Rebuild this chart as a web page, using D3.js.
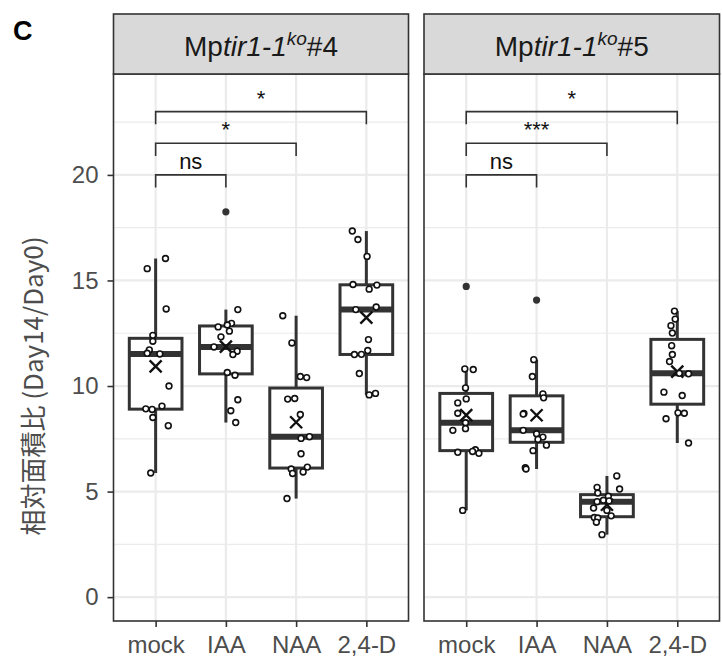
<!DOCTYPE html>
<html>
<head>
<meta charset="utf-8">
<script src="https://cdn.jsdelivr.net/npm/d3@7"></script>
<style>
  body { margin: 0; background: #fff; }
  text { font-family: "Liberation Sans", Arial, Helvetica, sans-serif; }
</style>
</head>
<body>
<svg id="chart" width="722" height="663"></svg>
<script>
// Treatments on the x axis of each facet
const treatments = ["mock", "IAA", "NAA", "2,4-D"];
const lineNames = ["#4", "#5"];
const yTicks = [0, 5, 10, 15, 20];

// Relative area (Day14/Day0), one [value, jitter] pair per plant; jitter is a fraction of the category step
const ko4Mock = [[16.04, 0.14], [15.56, -0.12], [13.65, 0.15], [12.4, -0.04], [12.12, -0.04], [11.71, -0.09], [11.55, -0.12], [11.52, 0.06], [10.0, 0.19], [9.05, 0.09], [8.92, -0.14], [8.89, -0.05], [8.51, -0.04], [8.12, 0.18], [5.88, -0.07]];
const ko4IAA = [[18.25, 0], [13.62, 0.17], [12.97, 0.08], [12.89, 0.02], [12.8, -0.11], [12.6, 0.05], [12.33, -0.07], [11.85, -0.17], [11.65, 0.16], [11.49, 0.10], [10.64, 0.02], [10.51, 0.13], [9.35, 0.17], [8.83, 0.07], [8.27, 0.14]];
const ko4NAA = [[13.33, -0.19], [12.04, -0.06], [10.45, 0.06], [10.40, 0.15], [9.41, -0.02], [9.38, -0.12], [8.65, 0.06], [7.60, 0.19], [7.52, 0.07], [6.79, 0.07], [6.16, 0.16], [6.07, -0.07], [5.93, 0.10], [5.86, -0.05], [4.67, -0.13]];
const ko424D = [[17.34, -0.20], [16.94, -0.12], [16.14, 0.01], [14.81, -0.19], [14.78, 0.15], [14.59, 0.04], [13.74, 0.14], [13.62, -0.15], [12.2, 0.03], [11.68, 0.02], [11.5, -0.07], [11.49, -0.17], [10.59, -0.10], [9.65, 0.13], [9.58, 0.04]];

const ko5Mock = [[14.72, 0], [10.81, -0.02], [10.78, 0.10], [9.91, -0.01], [9.39, 0.0], [9.2, -0.12], [8.71, -0.12], [8.26, -0.01], [7.98, -0.01], [7.9, -0.19], [6.98, 0.13], [6.9, 0.09], [6.86, -0.12], [6.81, 0.18], [4.11, -0.05]];
const ko5IAA = [[14.07, 0], [11.25, -0.04], [10.45, -0.06], [9.63, 0.09], [9.44, 0.10], [8.70, -0.18], [8.67, -0.19], [7.9, -0.19], [7.74, 0.0], [7.58, 0.09], [7.47, 0.02], [7.2, 0.14], [6.94, -0.05], [6.13, -0.16], [6.07, -0.15]];
const ko5NAA = [[5.74, 0.14], [5.2, -0.14], [5.12, 0.18], [4.93, -0.13], [4.78, 0.02], [4.59, -0.05], [4.56, 0.03], [4.52, -0.14], [4.22, -0.19], [4.11, 0.0], [3.85, 0.06], [3.77, -0.18], [3.75, -0.13], [3.55, -0.15], [2.96, -0.07]];
const ko524D = [[13.55, -0.04], [13.17, -0.03], [12.86, -0.09], [12.51, -0.07], [11.91, -0.08], [11.49, -0.07], [11.16, -0.11], [10.6, 0.03], [10.58, 0.16], [9.71, -0.19], [9.55, 0.07], [8.73, 0.01], [8.71, 0.10], [8.45, -0.16], [7.3, 0.16]];

// Pairwise comparisons against mock, bracket heights and significance labels
const comparisons = [["mock", "IAA"], ["mock", "NAA"], ["mock", "2,4-D"]];
const bracketHeights = [20.0, 21.5, 23.0];
const signif4 = ["ns", "*", "*"];
const signif5 = ["ns", "***", "*"];

const panels = [
  { line: lineNames[0], groups: [ko4Mock, ko4IAA, ko4NAA, ko424D], signif: signif4, x0: 113.5, x1: 408.5 },
  { line: lineNames[1], groups: [ko5Mock, ko5IAA, ko5NAA, ko524D], signif: signif5, x0: 424, x1: 719.5 }
];

const svg = d3.select("#chart");
const plotTop = 74, plotBottom = 621, stripTop = 14;
const y = d3.scaleLinear().domain([-1.13, 24.78]).range([plotBottom, plotTop]);
const ink = "#333333";

// Panel label
svg.append("text").attr("x", 13).attr("y", 40)
  .attr("font-size", 27).attr("font-weight", "bold").attr("fill", "#000").text("C");

// y-axis title
svg.append("text")
  .attr("transform", "translate(31,386) rotate(-90)")
  .attr("text-anchor", "middle").attr("dominant-baseline", "central")
  .attr("font-size", 26).attr("fill", "#4d4d4d")
  .style("font-family", "'Noto Sans CJK JP', 'Liberation Sans', sans-serif")
  .text("相対面積比 (Day14/Day0)");

panels.forEach((p, pi) => {
  const g = svg.append("g");
  const x = d3.scalePoint().domain(treatments).range([p.x0, p.x1]).padding(0.6);
  const step = x.step();
  const boxW = step * 0.75;

  // grid: minor then major
  const minor = d3.range(2.5, 25, 5);
  g.selectAll(".minor").data(minor).join("line")
    .attr("x1", p.x0).attr("x2", p.x1).attr("y1", d => y(d)).attr("y2", d => y(d))
    .attr("stroke", "#ebebeb").attr("stroke-width", 1.2);
  g.selectAll(".major").data(yTicks).join("line")
    .attr("x1", p.x0).attr("x2", p.x1).attr("y1", d => y(d)).attr("y2", d => y(d))
    .attr("stroke", "#ebebeb").attr("stroke-width", 2.2);
  g.selectAll(".vgrid").data(treatments).join("line")
    .attr("x1", d => x(d)).attr("x2", d => x(d)).attr("y1", plotTop).attr("y2", plotBottom)
    .attr("stroke", "#ebebeb").attr("stroke-width", 2.2);

  // boxplots
  p.groups.forEach((grp, gi) => {
    const cx = x(treatments[gi]);
    const vals = grp.map(d => d[0]).sort(d3.ascending);
    const q1 = d3.quantile(vals, 0.25), med = d3.quantile(vals, 0.5), q3 = d3.quantile(vals, 0.75);
    const iqr = q3 - q1;
    const lo = q1 - 1.5 * iqr, hi = q3 + 1.5 * iqr;
    const inside = vals.filter(v => v >= lo && v <= hi);
    const wLo = d3.min(inside), wHi = d3.max(inside);
    const mean = d3.mean(vals);
    const bg = g.append("g");
    bg.append("line").attr("x1", cx).attr("x2", cx).attr("y1", y(q3)).attr("y2", y(wHi))
      .attr("stroke", ink).attr("stroke-width", 3);
    bg.append("line").attr("x1", cx).attr("x2", cx).attr("y1", y(q1)).attr("y2", y(wLo))
      .attr("stroke", ink).attr("stroke-width", 3);
    bg.append("rect").attr("x", cx - boxW / 2).attr("width", boxW)
      .attr("y", y(q3)).attr("height", y(q1) - y(q3))
      .attr("fill", "#fff").attr("stroke", ink).attr("stroke-width", 3);
    bg.append("line").attr("x1", cx - boxW / 2).attr("x2", cx + boxW / 2)
      .attr("y1", y(med)).attr("y2", y(med)).attr("stroke", ink).attr("stroke-width", 6);
    // outliers
    bg.selectAll(".out").data(vals.filter(v => v < lo || v > hi)).join("circle")
      .attr("cx", cx).attr("cy", d => y(d)).attr("r", 3.6).attr("fill", ink);
    // mean marker
    const m = 6;
    const my = y(mean);
    bg.append("path")
      .attr("d", `M${cx - m},${my - m}L${cx + m},${my + m}M${cx - m},${my + m}L${cx + m},${my - m}`)
      .attr("stroke", "#111").attr("stroke-width", 2.4).attr("fill", "none");
    // jittered observations
    bg.selectAll(".pt").data(grp.filter(d => d[0] >= lo && d[0] <= hi)).join("circle")
      .attr("cx", d => cx + d[1] * step).attr("cy", d => y(d[0])).attr("r", 2.9)
      .attr("fill", "#fff").attr("stroke", "#111").attr("stroke-width", 1.6);
  });

  // significance brackets
  const tip = 0.6;
  comparisons.forEach((c, ci) => {
    const xa = x(c[0]), xb = x(c[1]), h = bracketHeights[ci];
    g.append("path")
      .attr("d", `M${xa},${y(h - tip)}V${y(h)}H${xb}V${y(h - tip)}`)
      .attr("fill", "none").attr("stroke", ink).attr("stroke-width", 1.6);
    g.append("text").attr("x", (xa + xb) / 2).attr("y", y(h) - 6)
      .attr("text-anchor", "middle").attr("font-size", 22).attr("fill", "#111")
      .text(p.signif[ci]);
  });

  // panel border
  g.append("rect").attr("x", p.x0).attr("y", plotTop).attr("width", p.x1 - p.x0).attr("height", plotBottom - plotTop)
    .attr("fill", "none").attr("stroke", ink).attr("stroke-width", 1.6);

  // strip
  g.append("rect").attr("x", p.x0).attr("y", stripTop).attr("width", p.x1 - p.x0).attr("height", plotTop - stripTop)
    .attr("fill", "#d9d9d9").attr("stroke", ink).attr("stroke-width", 1.6);
  const st = g.append("text").attr("x", (p.x0 + p.x1) / 2).attr("y", 56)
    .attr("text-anchor", "middle").attr("font-size", 28).attr("fill", "#1a1a1a");
  st.append("tspan").text("Mp");
  st.append("tspan").attr("font-style", "italic").text("tir1-1");
  st.append("tspan").attr("font-style", "italic").attr("font-size", 19).attr("dy", -11).text("ko");
  st.append("tspan").attr("dy", 11).text(p.line);

  // x axis
  const xa = g.append("g").attr("transform", `translate(0,${plotBottom})`)
    .call(d3.axisBottom(x).tickSize(6).tickPadding(9));
  xa.select(".domain").remove();
  xa.selectAll(".tick line").attr("stroke", ink).attr("stroke-width", 1.6);
  xa.selectAll(".tick text").attr("font-size", 24).attr("fill", "#4d4d4d")
    .style("font-family", "'Liberation Sans', Arial, sans-serif");

  // y axis on the first panel only
  if (pi === 0) {
    const ya = g.append("g").attr("transform", `translate(${p.x0},0)`)
      .call(d3.axisLeft(y).tickValues(yTicks).tickSize(6).tickPadding(9));
    ya.select(".domain").remove();
    ya.selectAll(".tick line").attr("stroke", ink).attr("stroke-width", 1.6);
    ya.selectAll(".tick text").attr("font-size", 24).attr("fill", "#4d4d4d")
      .style("font-family", "'Liberation Sans', Arial, sans-serif");
  }
});
</script>
</body>
</html>
